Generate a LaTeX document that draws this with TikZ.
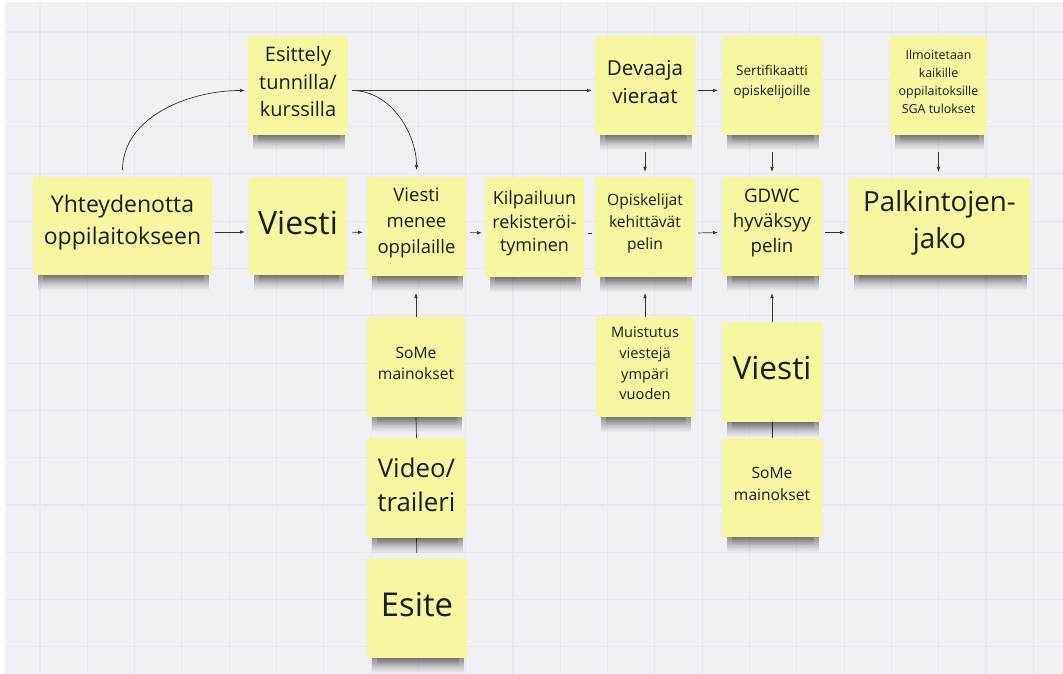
\documentclass[tikz,border=0pt]{standalone}
\usepackage{fontspec}
\setmainfont{Open Sans}
\usetikzlibrary{arrows.meta,fadings}
\definecolor{notey}{HTML}{F6F7A0}
\definecolor{bgc}{HTML}{F1F0F5}
\definecolor{gridc}{HTML}{E8E7ED}
\definecolor{txt}{HTML}{1C1C1C}
\definecolor{linec}{HTML}{333333}
\newcommand\nfs[2]{\fontsize{#1pt}{#2pt}\selectfont}
\tikzfading[name=shfade, top color=transparent!0, bottom color=transparent!100]
\pgfdeclarelayer{gridlayer}
\pgfdeclarelayer{connlayer}
\pgfdeclarelayer{shadlayer}
\pgfsetlayers{gridlayer,connlayer,shadlayer,main}
\begin{document}
\begin{tikzpicture}[x=1pt,y=-1pt,
  note/.style 2 args={rectangle, fill=notey, minimum width=#1, minimum height=#2, inner sep=0pt, outer sep=0pt},
  ntext/.style={text=txt, align=center, inner sep=0pt, yshift=3.5pt},
  arr/.style={draw=linec, line width=0.7pt, -{Latex[length=5pt,width=3.6pt]}},
  ln/.style={draw=linec, line width=0.7pt},
  shad/.style={fill=black, fill opacity=0.5, path fading=shfade},
  gridline/.style={draw=gridc, line width=1.1pt}]
\useasboundingbox (0,0) rectangle (1063,674);

% notes
\node[note={100pt}{99pt}, label={[ntext, font=\nfs{20}{27.5}]center:{Esittely\\tunnilla/\\kurssilla}}] (esit) at (298,85.5) {};
\node[note={179pt}{98pt}, label={[ntext, font=\nfs{23}{31.7}]center:{Yhteydenotta\\oppilaitokseen}}] (yht) at (122.5,226) {};
\node[note={98pt}{98pt}, label={[ntext, font=\nfs{32}{38}]center:{Viesti}}] (v1) at (298,226) {};
\node[note={99pt}{99pt}, label={[ntext, font=\nfs{18.5}{26}]center:{Viesti\\menee\\oppilaille}}] (vmo) at (416.5,226.5) {};
\node[note={99pt}{100pt}, label={[ntext, font=\nfs{18}{23.7}]center:{Kilpailuun\\rekisteröi-\\tyminen}}] (kil) at (534.5,227) {};
\node[note={100pt}{100pt}, label={[ntext, font=\nfs{15.6}{21.7}]center:{Opiskelijat\\kehittävät\\pelin}}] (opi) at (645,227) {};
\node[note={100pt}{99pt}, label={[ntext, font=\nfs{18.7}{24.7}]center:{GDWC\\hyväksyy\\pelin}}] (gdwc) at (772,226.5) {};
\node[note={181pt}{97pt}, label={[ntext, font=\nfs{27.7}{36.7}]center:{Palkintojen-\\jako}}] (palk) at (939.5,226.5) {};
\node[note={100pt}{99pt}, label={[ntext, font=\nfs{20.6}{28}]center:{Devaaja\\vieraat}}] (dev) at (645,85.5) {};
\node[note={100pt}{99pt}, label={[ntext, font=\nfs{13.5}{19.3}]center:{Sertifikaatti\\opiskelijoille}}] (sert) at (772,85.5) {};
\node[note={97pt}{99pt}, label={[ntext, font=\nfs{12.4}{18}]center:{Ilmoitetaan\\kaikille\\oppilaitoksille\\SGA tulokset}}] (ilm) at (938.5,85.5) {};
\node[note={98pt}{100pt}, label={[ntext, font=\nfs{15.6}{21.7}]center:{SoMe\\mainokset}}] (some1) at (416,367) {};
\node[note={99pt}{100pt}, label={[ntext, font=\nfs{25.8}{34}]center:{Video/\\traileri}}] (video) at (416.5,488) {};
\node[note={100pt}{99pt}, label={[ntext, font=\nfs{32.8}{38}]center:{Esite}}] (esite) at (417,608.5) {};
\node[note={98pt}{100pt}, label={[ntext, font=\nfs{14.6}{20.8}]center:{Muistutus\\viestejä\\ympäri\\vuoden}}] (mui) at (645,367) {};
\node[note={100pt}{100pt}, label={[ntext, font=\nfs{31.7}{38}]center:{Viesti}}] (v2) at (772,372) {};
\node[note={100pt}{99pt}, label={[ntext, font=\nfs{15.6}{21.7}]center:{SoMe\\mainokset}}] (some2) at (772,487.5) {};

% background and grid
\begin{pgfonlayer}{gridlayer}
\fill[white] (0,0) rectangle (1063,674);
\fill[bgc] (5,2) rectangle (1063,674);
\foreach \i in {0,...,21} \draw[gridline] ({40+47.3*\i},2) -- ({40+47.3*\i},674);
\foreach \j in {0,...,13} \draw[gridline] (5,{32+47.3*\j}) -- (1063,{32+47.3*\j});
\end{pgfonlayer}

% shadows
\begin{pgfonlayer}{shadlayer}
\foreach \n in {esit,yht,v1,vmo,kil,opi,gdwc,palk,dev,sert,ilm,some1,video,esite,mui,v2,some2}{
  \fill[shad] ([xshift=5pt,yshift=4pt]\n.south west) rectangle ([xshift=-3pt,yshift=-15pt]\n.south east);
  \fill[shad, fill opacity=0.25] ([xshift=10pt,yshift=2pt]\n.south west) rectangle ([xshift=-8pt,yshift=-8pt]\n.south east);
}
\end{pgfonlayer}

% connectors
\begin{pgfonlayer}{connlayer}
\draw[arr, shorten <=3pt, shorten >=4pt] ([yshift=-6pt]yht.east) -- ([yshift=-6pt]v1.west);
\draw[arr, shorten <=5pt, shorten >=4pt] ([yshift=-6pt]v1.east) -- ([yshift=-6pt]vmo.west);
\draw[arr, shorten <=4pt, shorten >=3pt] ([yshift=-6pt]vmo.east) -- ([yshift=-6pt]kil.west);
\draw[ln, shorten <=4pt, shorten >=3pt] ([yshift=-6pt]kil.east) -- ([yshift=-6pt]opi.west);
\draw[arr, shorten <=3pt, shorten >=4pt] ([yshift=-6pt]opi.east) -- ([yshift=-6pt]gdwc.west);
\draw[arr, shorten <=3pt, shorten >=4pt] ([yshift=-6pt]gdwc.east) -- ([yshift=-6pt]palk.west);
\draw[arr, shorten <=4pt, shorten >=3pt] ([yshift=-5pt]esit.east) -- ([yshift=-5pt]dev.west);
\draw[arr, shorten <=3pt, shorten >=4pt] ([yshift=-5pt]dev.east) -- ([yshift=-5pt]sert.west);
\draw[arr, shorten <=7pt, shorten >=3pt] (yht.north) to[out=90,in=180] ([yshift=-5pt]esit.west);
\draw[arr, shorten <=4pt, shorten >=7pt] ([yshift=-5pt]esit.east) to[out=0,in=90] (vmo.north);
\draw[arr, shorten <=17pt, shorten >=5pt] (dev.south) -- (opi.north);
\draw[arr, shorten <=17pt, shorten >=5pt] (sert.south) -- (gdwc.north);
\draw[arr, shorten <=17pt, shorten >=6pt] (ilm.south) -- (ilm.south |- palk.north);
\draw[arr, shorten >=17pt] (some1.north) -- (some1.north |- vmo.south);
\draw[arr, shorten >=16pt] (mui.north) -- (opi.south);
\draw[arr, shorten >=17pt] (v2.north) -- (gdwc.south);
\draw[ln] (video.north) -- (some1.south);
\draw[ln, shorten <=6pt] (esite.north) -- (video.south);
\draw[ln] (some2.north) -- (v2.south);
\end{pgfonlayer}
\end{tikzpicture}
\end{document}
